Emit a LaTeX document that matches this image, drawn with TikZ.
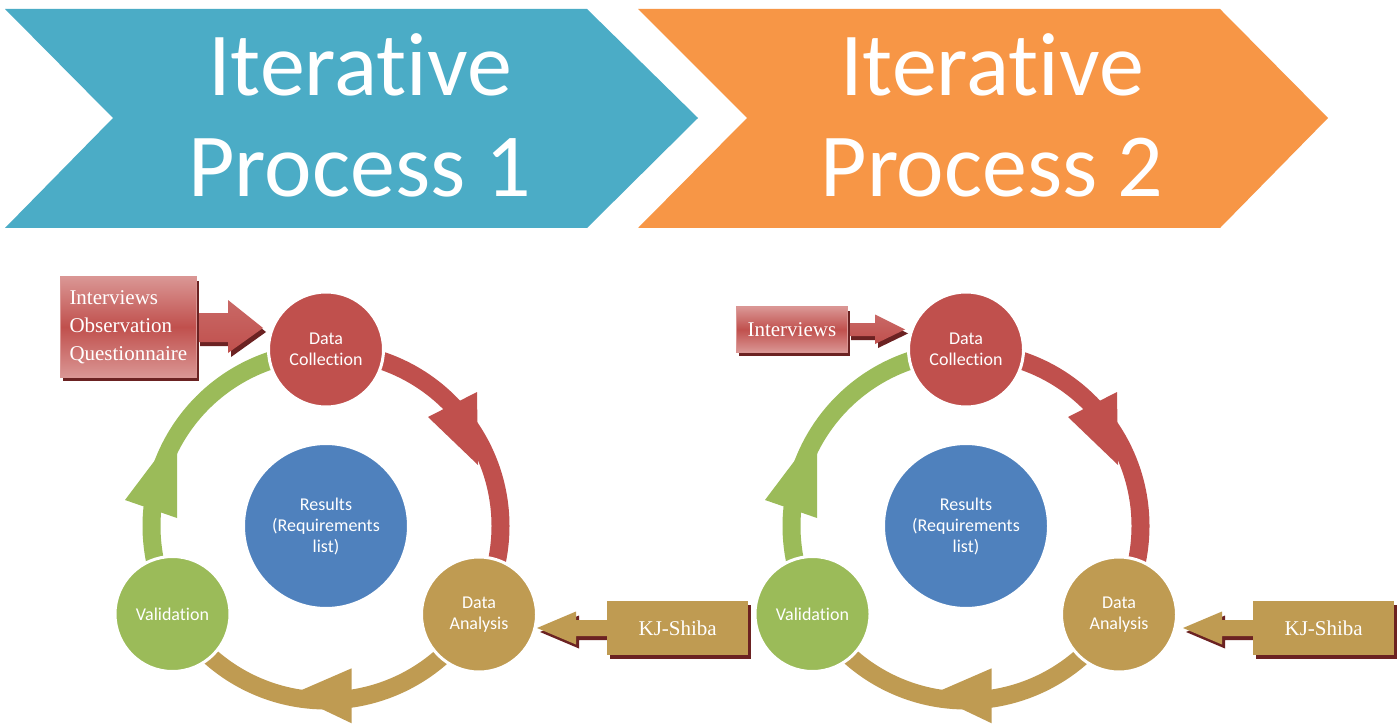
\documentclass[tikz,border=0pt]{standalone}
\usepackage{fontspec}
\setmainfont{Liberation Serif}
\newfontfamily\calib[Ligatures={NoCommon,NoRare,NoContextual}]{Carlito}
\usetikzlibrary{calc,shadows}
\definecolor{chevblue}{HTML}{4BACC6}
\definecolor{chevorange}{HTML}{F79646}
\definecolor{redc}{HTML}{C0504D}
\definecolor{redlight}{HTML}{DA9694}
\definecolor{bluec}{HTML}{4F81BD}
\definecolor{greenc}{HTML}{9BBB59}
\definecolor{goldc}{HTML}{BF9B52}
\definecolor{shadowc}{HTML}{6B2222}
\begin{document}
\begin{tikzpicture}[x=1pt,y=1pt,
  cyc/.style={circle, draw=white, line width=3pt, minimum size=115pt, inner sep=0pt,
    text=white, align=center, font=\calib\fontsize{18}{21}\selectfont},
  band/.style={line width=18pt},
  chev/.style={text=white, font=\calib\fontsize{90}{101}\selectfont, anchor=base, inner sep=0pt},
  serif/.style={text=white, font=\fontsize{21}{28}\selectfont, align=left, inner sep=0pt},
  shad/.style={general shadow={shadow xshift=3pt, shadow yshift=-4pt, fill=shadowc}},
  redbox/.style={shad, serif, draw=redlight, line width=1.2pt, top color=redlight,
    bottom color=redlight, middle color=redc},
  redarrow/.style={shad, top color=redc!65!redlight, bottom color=redc},
  goldbox/.style={shad, serif, fill=goldc, minimum width=141pt, minimum height=54pt},
]
\useasboundingbox (0,0) rectangle (1399,724);
\fill[white] (0,0) rectangle (1399,724);

% chevrons
\fill[chevblue] (5,715) -- (587,715) -- (698,606) -- (587,496) -- (5,496) -- (113,606) -- cycle;
\fill[chevorange] (638,715) -- (1220,715) -- (1328,606) -- (1220,496) -- (638,496) -- (747,606) -- cycle;
\node[chev] (it1) at (360,628) {Iterat\kern0pt ive};
\node[chev] (pr1) at (360,527) {Process 1};
\node[chev] (it2) at (992,628) {Iterat\kern0pt ive};
\node[chev] (pr2) at (992,527) {Process 2};

% cycles
\foreach \i/\sx in {1/0,2/640}{
\begin{scope}[shift={(326+\sx,198)}]
  \coordinate (R\i) at (0,0);
  \draw[band, redc] (R\i) ++(80:174.5) arc[start angle=80, end angle=-20, radius=174.5];
  \draw[band, greenc] (R\i) ++(200:174.5) arc[start angle=200, end angle=100, radius=174.5];
  \draw[band, goldc] (R\i) ++(-40:174.5) arc[start angle=-40, end angle=-140, radius=174.5];
  \fill[redc] (102,109) -- (151,134) -- (152,61) -- cycle;
  \fill[greenc] (-201,26) -- (-149,8) -- (-149,95) -- cycle;
  \fill[goldc] (25.7,-142.3) -- (25.7,-197.3) -- (-34.7,-168.5) -- cycle;
  \node[cyc, fill=redc] (dc\i) at (0,176.5) {Data\\Collect\kern0pt ion};
  \node[cyc, fill=bluec, minimum size=165pt] (res\i) at (0,0) {Results\\(Requirements\\list)};
  \node[cyc, fill=goldc] (da\i) at (153,-88.5) {Data\\Analysis};
  \node[cyc, fill=greenc] (va\i) at (-153.5,-88) {Validat\kern0pt ion};
\end{scope}
}

% input box 1
\coordinate (in1e) at (197,397);
\path[redarrow] (in1e) ++(0,-15) -- ++(31,0) -- ++(0,-11) -- ($(in1e)+(66,-1)$)
  -- ($(in1e)+(31,27)$) -- ++(0,-13) -- ($(in1e)+(0,14)$) -- cycle;
\node[redbox, anchor=east, minimum width=136pt, minimum height=100pt] (in1) at (in1e)
  {Interviews\\Observation\\Questionnaire};

% input box 2
\coordinate (in2e) at (848,394.5);
\path[redarrow] (in2e) ++(0,-6.5) -- ++(27,0) -- ++(0,-8) -- ($(in2e)+(57,0)$)
  -- ($(in2e)+(27,15)$) -- ++(0,-8.5) -- ($(in2e)+(0,6.5)$) -- cycle;
\node[redbox, anchor=east, minimum width=111pt, minimum height=45pt] (in2) at (in2e)
  {Interviews};

% KJ-Shiba boxes
\foreach \j/\kx in {1/607,2/1253}{
  \coordinate (kjw\j) at (\kx,96);
  \path[shad, fill=goldc] (kjw\j) ++(0,8) -- ++(-31,0) -- ++(0,8.5) -- ($(kjw\j)+(-70,0)$)
    -- ($(kjw\j)+(-31,-16.5)$) -- ++(0,8.5) -- ($(kjw\j)+(0,-8)$) -- cycle;
  \node[goldbox, anchor=west] (kj\j) at (kjw\j) {KJ-Shiba};
}
\end{tikzpicture}
\end{document}
